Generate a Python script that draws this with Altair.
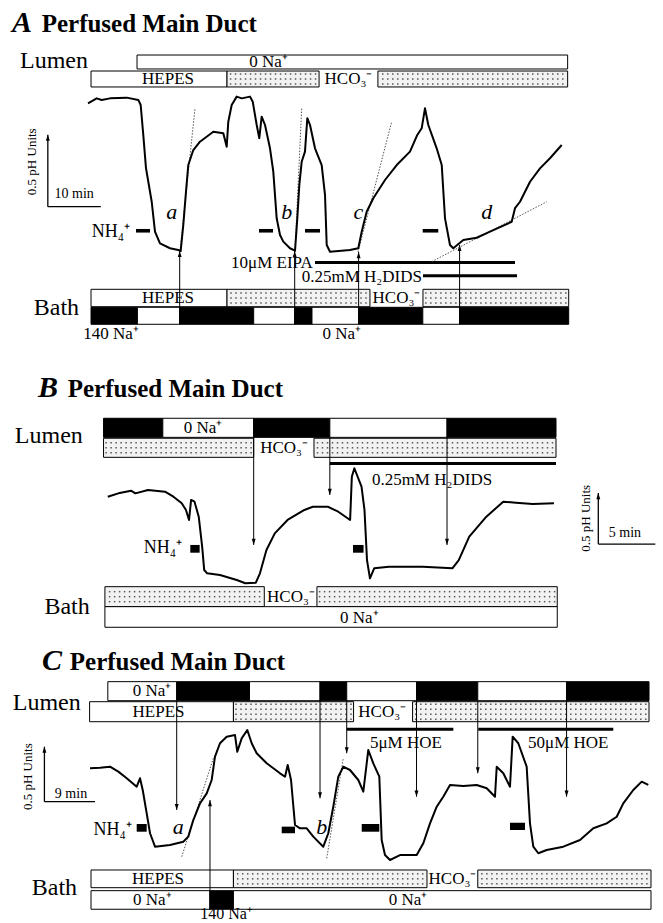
import altair as alt
import pandas as pd

FONT = "Liberation Serif"
FIG_W = 663
FILLS = {"w": "white", "b": "black", "d": "#f2f2f2"}
DOT_STEP_PX = 5

# =================== PANEL A (time in min, pH relative to trough) ===================
A_T = [0.0, 1.64, 2.58, 4.15, 7.30, 9.49, 9.94, 10.43, 10.94, 11.38, 12.02, 12.64, 13.58,
       15.47, 17.04, 17.49, 17.98, 18.49, 18.92, 19.87, 21.13, 23.64, 25.53, 26.17, 26.47,
       27.11, 28.06, 29.0, 30.57, 31.08, 31.83, 32.32, 32.77, 33.40, 34.34, 34.96, 35.60,
       36.23, 36.85, 38.11, 39.06, 39.49, 39.87, 40.32, 40.94, 41.38, 41.89, 42.83, 44.09,
       44.72, 45.04, 45.66, 49.43, 51.0, 51.64, 52.58, 53.83, 56.04, 58.25, 60.75, 62.13,
       62.96, 63.58, 64.21, 65.79, 66.74, 67.36, 68.30, 68.92, 70.81, 73.34, 75.85, 79.94,
       80.57, 81.51, 83.40, 85.28, 87.17, 89.38]
A_PH = [1.026, 1.060, 1.049, 1.060, 1.065, 1.049, 1.014, 0.806, 0.576, 0.481, 0.342, 0.134,
        0.053, 0.019, 0.007, 0.0, 0.181, 0.412, 0.597, 0.701, 0.759, 0.828, 0.817, 0.724,
        0.898, 1.014, 1.072, 1.060, 1.072, 1.037, 0.875, 0.783, 0.933, 0.875, 0.713, 0.551,
        0.227, 0.111, 0.065, 0.019, 0.002, 0.227, 0.458, 0.620, 0.690, 0.922, 0.875, 0.713,
        0.597, 0.389, 0.042, -0.005, 0.007, 0.019, 0.134, 0.273, 0.366, 0.493, 0.597, 0.690,
        0.806, 0.852, 0.991, 0.875, 0.713, 0.597, 0.227, 0.042, 0.019, 0.076, 0.092, 0.134,
        0.203, 0.297, 0.342, 0.481, 0.574, 0.644, 0.736]
A_LUMEN1 = ([9.25], [90.5], ["w"])
A_LUMEN2 = ([0.57, 26.23, 54.7], [26.23, 43.6, 90.5], ["w", "d", "d"])
A_BATH1 = ([0.57, 26.23, 63.2], [26.23, 53.2, 90.7], ["w", "d", "d"])
A_BATH2_EDGES = [0.57, 9.32, 17.30, 31.26, 39.0, 42.26, 51.06, 63.17, 70.11, 90.70]
A_BATH2_FILLS = ["b", "w", "b", "w", "b", "w", "b", "w", "b"]
A_DRUG_T0 = [42.83, 63.2]
A_DRUG_T1 = [80.57, 80.94]
A_DRUG_V = [-0.080, -0.172]
A_UP_T = [17.30, 39.0, 51.06, 70.11]
A_UP_TIP = [0.0, 0.0, -0.007, 0.042]
A_NH4_T0 = [9.06, 32.26, 40.94, 63.15]
A_NH4_T1 = [11.70, 34.91, 43.77, 66.09]
A_TAN = [(17.36, 0.0, 20.19, 0.991), (39.06, 0.0, 40.32, 0.991),
         (50.94, -0.007, 57.30, 0.898), (64.85, -0.074, 86.55, 0.342)]
A_SCALE = (-7.58, 0.308, 10, 0.5)   # origin t, origin pH, 10 min, 0.5 pH
A_TEXT = [
    ("A", -14.34, 1.523, 30, "title1"),
    ("Perfused Main Duct", -8.74, 1.523, 25, "title2"),
    ("Lumen", -12.83, 1.269, 24, "left"),
    ("0 Na⁺", 34.06, 1.3125, 17, "mid"),
    ("HEPES", 15.1, 1.194, 17, "mid"),
    ("HCO₃⁻", 49.15, 1.194, 17, "mid"),
    ("0.5 pH Units", -10.62, 0.62, 13, "rot"),
    ("10 min", -2.6, 0.365, 14, "base"),
    ("NH₄⁺", 7.92, 0.134, 18, "rightmid"),
    ("a", 15.79, 0.273, 22, "ital"),
    ("b", 37.49, 0.273, 22, "ital"),
    ("c", 51.0, 0.273, 22, "ital"),
    ("d", 75.23, 0.273, 22, "ital"),
    ("10μM EIPA", 42.4, -0.083, 17, "rightmid"),
    ("0.25mM H₂DIDS", 63.0, -0.18, 17, "rightmid"),
    ("Bath", -10.23, -0.444, 24, "left"),
    ("HEPES", 15.1, -0.326, 17, "mid"),
    ("HCO₃⁻", 58.2, -0.326, 17, "mid"),
    ("140 Na⁺", 4.34, -0.576, 17, "mid"),
    ("0 Na⁺", 47.9, -0.576, 17, "mid"),
]

# =================== PANEL B ===================
B_T = [0.33, 1.26, 2.37, 2.75, 3.86, 5.35, 6.09, 6.82, 7.19, 7.46, 7.64, 7.94, 8.31, 8.61,
       8.79, 9.05, 10.17, 11.65, 12.39, 13.32, 13.68, 14.25, 14.98, 16.10, 17.58, 18.32,
       19.62, 20.55, 21.59, 21.74, 21.96, 22.59, 22.85, 23.07, 23.33, 23.70, 25.0, 27.96,
       30.56, 31.12, 32.04, 33.54, 35.02, 36.13, 37.61, 39.47]
B_PH = [0.846, 0.879, 0.905, 0.879, 0.912, 0.895, 0.846, 0.781, 0.716, 0.618, 0.814, 0.797,
        0.650, 0.356, 0.127, 0.095, 0.078, 0.029, -0.003, 0.003, 0.095, 0.324, 0.487, 0.618,
        0.716, 0.748, 0.748, 0.699, 0.618, 1.042, 1.125, 0.944, 0.716, 0.225, 0.046, 0.144,
        0.160, 0.160, 0.144, 0.225, 0.454, 0.650, 0.797, 0.787, 0.775, 0.781]
B_LUMEN1_EDGES = [-0.04, 5.16, 13.13, 19.81, 30.09, 39.65]
B_LUMEN1_FILLS = ["b", "w", "b", "w", "b"]
B_LUMEN2 = ([-0.04, 18.42], [13.13, 39.65], ["d", "d"])
B_BATH1 = ([0.08, 18.68], [14.06, 39.76], ["d", "d"])
B_BATH2 = ([0.08], [39.76], ["w"])
B_DRUG_T0 = [19.81]
B_DRUG_T1 = [39.65]
B_DRUG_V = [1.172]
B_DOWN_T = [13.13, 19.81, 30.09]
B_DOWN_TIP = [0.373, 0.863, 0.373]
B_NH4_T0 = [7.57, 21.84]
B_NH4_T1 = [8.39, 22.77]
B_SCALE = (43.36, 0.382, 5, 0.5)
B_TEXT = [
    ("B", -5.79, 1.826, 30, "title1"),
    ("Perfused Main Duct", -3.18, 1.826, 25, "title2"),
    ("Lumen", -7.82, 1.370, 24, "left"),
    ("0 Na⁺", 8.68, 1.520, 17, "mid"),
    ("HCO₃⁻", 15.8, 1.324, 17, "mid"),
    ("0.25mM H₂DIDS", 23.5, 1.010, 17, "leftmid"),
    ("NH₄⁺", 6.84, 0.343, 18, "rightmid"),
    ("0.5 pH Units", 42.25, 0.634, 13, "rot"),
    ("5 min", 45.7, 0.493, 14, "mid"),
    ("Bath", -5.23, -0.304, 24, "left"),
    ("HCO₃⁻", 16.4, -0.137, 17, "mid"),
    ("0 Na⁺", 22.4, -0.343, 17, "mid"),
]

# =================== PANEL C ===================
C_T = [0.0, 1.78, 3.56, 5.04, 6.53, 8.31, 8.90, 9.38, 10.09, 10.68, 11.57, 14.23, 16.60,
       17.49, 18.38, 19.57, 20.77, 21.65, 22.24, 23.13, 24.32, 25.80, 26.21, 26.99, 27.99,
       28.77, 29.66, 31.44, 33.81, 34.70, 35.18, 35.77, 36.48, 37.37, 38.56, 39.73, 41.51,
       42.40, 43.29, 44.18, 45.07, 46.26, 47.74, 48.63, 49.52, 50.41, 51.48, 51.90, 52.49,
       53.38, 55.16, 58.13, 59.31, 60.50, 61.69, 62.86, 64.06, 66.42, 68.81, 70.59, 72.06,
       72.37, 73.54, 74.73, 75.21, 76.21, 77.70, 78.29, 78.88, 79.77, 81.26, 84.22, 87.19,
       89.56, 91.94, 93.72, 94.89, 96.67, 98.17, 99.34]
C_PH = [0.815, 0.821, 0.830, 0.785, 0.725, 0.648, 0.725, 0.618, 0.406, 0.225, 0.103, 0.118,
        0.148, 0.194, 0.345, 0.497, 0.588, 0.709, 0.921, 1.043, 1.103, 1.118, 0.966, 1.088,
        1.164, 1.043, 0.952, 0.861, 0.770, 0.739, 0.845, 0.709, 0.300, 0.270, 0.270, 0.194,
        0.103, 0.225, 0.466, 0.739, 0.830, 0.800, 0.709, 0.603, 0.982, 0.861, 0.739, 0.164,
        0.027, -0.018, 0.027, 0.027, 0.134, 0.315, 0.466, 0.557, 0.664, 0.655, 0.664, 0.634,
        0.557, 0.830, 0.770, 0.648, 1.103, 1.043, 0.830, 0.315, 0.103, 0.043, 0.073, 0.103,
        0.164, 0.270, 0.315, 0.375, 0.497, 0.618, 0.694, 0.664]
C_LUMEN1_EDGES = [3.17, 15.43, 28.38, 40.93, 45.68, 58.10, 69.0, 84.8, 99.47]
C_LUMEN1_FILLS = ["w", "b", "w", "b", "w", "b", "w", "b"]
C_LUMEN2 = ([-0.07, 25.52, 57.4], [25.52, 46.9, 99.47], ["w", "d", "d"])
C_BATH1 = ([0.18, 25.52, 69.0], [25.52, 59.96, 99.82], ["w", "d", "d"])
C_BATH2_EDGES = [0.18, 21.35, 25.52, 99.82]
C_BATH2_FILLS = ["w", "b", "w"]
C_DRUG_T0 = [45.68, 69.09]
C_DRUG_T1 = [64.65, 93.11]
C_DRUG_V = [1.170, 1.170]
C_DOWN_T = [15.43, 40.93, 45.68, 58.10, 69.0, 84.8]
C_DOWN_TIP = [0.436, 0.543, 0.952, 0.557, 0.770, 0.557]
C_UP_T = [21.35]
C_UP_TIP = [0.527]
C_NH4 = [(8.31, 10.09, 0.239, 0.309), (34.11, 36.48, 0.225, 0.285),
         (48.35, 51.48, 0.239, 0.309), (74.73, 77.4, 0.255, 0.321)]
C_TAN = [(16.32, 0.012, 21.94, 0.906), (42.12, -0.003, 45.07, 0.906)]
C_SCALE = (-8.11, 0.512, 9, 0.5)
C_TEXT = [
    ("C", -8.54, 1.709, 30, "title1"),
    ("Perfused Main Duct", -3.59, 1.709, 25, "title2"),
    ("Lumen", -13.75, 1.345, 24, "left"),
    ("0 Na⁺", 11.03, 1.518, 17, "mid"),
    ("HEPES", 12.2, 1.327, 17, "mid"),
    ("HCO₃⁻", 52.0, 1.327, 17, "mid"),
    ("5μM HOE", 49.82, 1.043, 17, "leftmid"),
    ("50μM HOE", 77.94, 1.043, 17, "leftmid"),
    ("0.5 pH Units", -11.12, 0.739, 13, "rot"),
    ("9 min", -3.38, 0.545, 14, "base"),
    ("NH₄⁺", 7.42, 0.255, 18, "rightmid"),
    ("a", 15.71, 0.285, 22, "ital"),
    ("b", 41.23, 0.285, 22, "ital"),
    ("Bath", -10.37, -0.336, 24, "left"),
    ("HEPES", 12.1, -0.191, 17, "mid"),
    ("HCO₃⁻", 64.5, -0.191, 17, "mid"),
    ("0 Na⁺", 11.07, -0.382, 17, "mid"),
    ("0 Na⁺", 56.6, -0.382, 17, "mid"),
    ("140 Na⁺", 24.2, -0.512, 16, "mid"),
]

# ---------------- layout (panel windows in data units) ----------------
LAYOUT = {
    "A": dict(xdom=[-88 / 5.3, (FIG_W - 88) / 5.3], ydom=[-99 / 144, 251 / 144], h=350,
              rows=dict(l1=(1.264, 1.361), l2=(1.139, 1.25), b1=(-0.387, -0.266), b2=(-0.509, -0.391)),
              nh4=(0.128, 0.153)),
    "B": dict(xdom=[-104 / 11.4, (FIG_W - 104) / 11.4], ydom=[-57 / 102, 233 / 102], h=290,
              rows=dict(l1=(1.428, 1.615), l2=(1.232, 1.419), b1=(-0.232, -0.036), b2=(-0.434, -0.232)),
              nh4=(0.297, 0.373)),
    "C": dict(xdom=[-90 / 5.62, (FIG_W - 90) / 5.62], ydom=[-65 / 110, 218 / 110], h=283,
              rows=dict(l1=(1.430, 1.603), l2=(1.239, 1.421), b1=(-0.270, -0.109), b2=(-0.466, -0.297)),
              nh4=None),
}

KINDS = {
    "mid": dict(align="center", baseline="middle"),
    "base": dict(align="center", baseline="alphabetic"),
    "left": dict(align="left", baseline="alphabetic"),
    "leftmid": dict(align="left", baseline="middle"),
    "rightmid": dict(align="right", baseline="middle"),
    "title1": dict(align="left", baseline="alphabetic", fontWeight="bold", fontStyle="italic"),
    "title2": dict(align="left", baseline="alphabetic", fontWeight="bold"),
    "ital": dict(align="center", baseline="middle", fontStyle="italic"),
    "rot": dict(align="center", baseline="middle", angle=270),
}
DOWN_HEAD = "M0,0L-0.32,-1L0.32,-1Z"
UP_HEAD = "M0,0L-0.32,1L0.32,1Z"


def edge_rows(edges, fills, v):
    return [dict(t0=edges[i], t1=edges[i + 1], v0=v[0], v1=v[1], fill=FILLS[f], kind=f)
            for i, f in enumerate(fills)]


def gap_rows(spec, v):
    s, e, f = spec
    return [dict(t0=s[i], t1=e[i], v0=v[0], v1=v[1], fill=FILLS[f[i]], kind=f[i]) for i in range(len(s))]


def stipple(bars, kx, ky):
    """Texture points for the stippled (HCO3-) boxes."""
    dt, dv = DOT_STEP_PX / kx, DOT_STEP_PX / ky
    pts = []
    for b in bars:
        if b["kind"] != "d":
            continue
        nv = int((b["v1"] - b["v0"]) / dv)
        nt = int((b["t1"] - b["t0"]) / dt)
        mv = ((b["v1"] - b["v0"]) - (nv - 1) * dv) / 2
        mt = ((b["t1"] - b["t0"]) - (nt - 1) * dt) / 2
        for j in range(nv):
            for i in range(nt):
                pts.append(dict(t=b["t0"] + mt + i * dt, v=b["v0"] + mv + j * dv))
    return pts


def build_panel(key, t, ph, bars, drugs, arrows, nh4, tangents, scale, texts):
    L = LAYOUT[key]
    xs = alt.Scale(domain=L["xdom"], nice=False, zero=False)
    ys = alt.Scale(domain=L["ydom"], nice=False, zero=False)
    kx = FIG_W / (L["xdom"][1] - L["xdom"][0])
    ky = L["h"] / (L["ydom"][1] - L["ydom"][0])

    def X(f):
        return alt.X(f, type="quantitative", scale=xs, axis=None)

    def Y(f):
        return alt.Y(f, type="quantitative", scale=ys, axis=None)

    layers = []
    layers.append(alt.Chart(pd.DataFrame(bars)).mark_rect(stroke="black", strokeWidth=1).encode(
        x=X("t0"), x2="t1", y=Y("v0"), y2="v1", fill=alt.Fill("fill:N", scale=None)))
    layers.append(alt.Chart(pd.DataFrame(stipple(bars, kx, ky))).mark_square(
        size=2.2, color="#3a3a3a", opacity=0.85).encode(x=X("t"), y=Y("v")))
    if drugs:
        layers.append(alt.Chart(pd.DataFrame(drugs)).mark_rule(color="black", strokeWidth=3).encode(
            x=X("t0"), x2="t1", y=Y("v")))
    if arrows:
        adf = pd.DataFrame(arrows)
        layers.append(alt.Chart(adf).mark_rule(color="black", strokeWidth=1).encode(
            x=X("t"), y=Y("v0"), y2="v1"))
        layers.append(alt.Chart(adf).mark_point(filled=True, color="black", size=150, opacity=1,
                                                strokeWidth=0).encode(
            x=X("t"), y=Y("v1"), shape=alt.Shape("head:N", scale=None)))
    if tangents:
        tdf = pd.DataFrame(tangents, columns=["t0", "v0", "t1", "v1"])
        layers.append(alt.Chart(tdf).mark_rule(color="#555", strokeWidth=1, strokeDash=[1.5, 1.5]).encode(
            x=X("t0"), y=Y("v0"), x2="t1", y2="v1"))
    layers.append(alt.Chart(pd.DataFrame(nh4)).mark_rect(color="black").encode(
        x=X("t0"), x2="t1", y=Y("v0"), y2="v1"))
    tr = pd.DataFrame({"t": t, "ph": ph, "i": range(len(t))})
    layers.append(alt.Chart(tr).mark_line(color="black", strokeWidth=2, strokeJoin="round").encode(
        x=X("t"), y=Y("ph"), order="i:Q"))
    st, sv, dmin, dph = scale
    sb = pd.DataFrame([dict(t0=st, t1=st + dmin, v0=sv, v1=sv),
                       dict(t0=st, t1=st, v0=sv, v1=sv + dph)])
    layers.append(alt.Chart(sb).mark_rule(color="black", strokeWidth=1.3).encode(
        x=X("t0"), x2="t1", y=Y("v0"), y2="v1"))
    layers.append(alt.Chart(pd.DataFrame([dict(t=st, v=sv + dph, head=UP_HEAD)])).mark_point(
        filled=True, color="black", size=150, opacity=1, strokeWidth=0).encode(
        x=X("t"), y=Y("v"), shape=alt.Shape("head:N", scale=None)))
    tdf = pd.DataFrame(texts, columns=["label", "t", "v", "size", "kind"])
    for kind, grp in tdf.groupby("kind", sort=False):
        layers.append(alt.Chart(grp).mark_text(font=FONT, color="black", **KINDS[kind]).encode(
            x=X("t"), y=Y("v"), text="label:N", size=alt.Size("size:Q", scale=None)))
    return alt.layer(*layers).properties(width=FIG_W, height=L["h"])


RA = LAYOUT["A"]["rows"]
a_bars = (gap_rows(A_LUMEN1, RA["l1"]) + gap_rows(A_LUMEN2, RA["l2"]) +
          gap_rows(A_BATH1, RA["b1"]) + edge_rows(A_BATH2_EDGES, A_BATH2_FILLS, RA["b2"]))
a_drugs = [dict(t0=A_DRUG_T0[i], t1=A_DRUG_T1[i], v=A_DRUG_V[i]) for i in range(len(A_DRUG_V))]
a_arrows = [dict(t=A_UP_T[i], v0=RA["b2"][0], v1=A_UP_TIP[i], head=UP_HEAD) for i in range(len(A_UP_T))]
a_nh4 = [dict(t0=A_NH4_T0[i], t1=A_NH4_T1[i], v0=LAYOUT["A"]["nh4"][0], v1=LAYOUT["A"]["nh4"][1])
         for i in range(len(A_NH4_T0))]
panel_a = build_panel("A", A_T, A_PH, a_bars, a_drugs, a_arrows, a_nh4, A_TAN, A_SCALE, A_TEXT)

RB = LAYOUT["B"]["rows"]
b_bars = (edge_rows(B_LUMEN1_EDGES, B_LUMEN1_FILLS, RB["l1"]) + gap_rows(B_LUMEN2, RB["l2"]) +
          gap_rows(B_BATH1, RB["b1"]) + gap_rows(B_BATH2, RB["b2"]))
b_drugs = [dict(t0=B_DRUG_T0[i], t1=B_DRUG_T1[i], v=B_DRUG_V[i]) for i in range(len(B_DRUG_V))]
b_arrows = [dict(t=B_DOWN_T[i], v0=RB["l1"][0], v1=B_DOWN_TIP[i], head=DOWN_HEAD) for i in range(len(B_DOWN_T))]
b_nh4 = [dict(t0=B_NH4_T0[i], t1=B_NH4_T1[i], v0=LAYOUT["B"]["nh4"][0], v1=LAYOUT["B"]["nh4"][1])
         for i in range(len(B_NH4_T0))]
panel_b = build_panel("B", B_T, B_PH, b_bars, b_drugs, b_arrows, b_nh4, [], B_SCALE, B_TEXT)

RC = LAYOUT["C"]["rows"]
c_bars = (edge_rows(C_LUMEN1_EDGES, C_LUMEN1_FILLS, RC["l1"]) + gap_rows(C_LUMEN2, RC["l2"]) +
          gap_rows(C_BATH1, RC["b1"]) + edge_rows(C_BATH2_EDGES, C_BATH2_FILLS, RC["b2"]))
c_drugs = [dict(t0=C_DRUG_T0[i], t1=C_DRUG_T1[i], v=C_DRUG_V[i]) for i in range(len(C_DRUG_V))]
c_arrows = ([dict(t=C_DOWN_T[i], v0=RC["l1"][0], v1=C_DOWN_TIP[i], head=DOWN_HEAD) for i in range(len(C_DOWN_T))] +
            [dict(t=C_UP_T[i], v0=RC["b2"][0], v1=C_UP_TIP[i], head=UP_HEAD) for i in range(len(C_UP_T))])
c_nh4 = [dict(t0=a, t1=b, v0=c, v1=d) for (a, b, c, d) in C_NH4]
panel_c = build_panel("C", C_T, C_PH, c_bars, c_drugs, c_arrows, c_nh4, C_TAN, C_SCALE, C_TEXT)

chart = alt.vconcat(panel_a, panel_b, panel_c, spacing=0, bounds="flush").resolve_scale(
    x="independent", y="independent").properties(
    padding=0, background="white"
).configure_view(stroke=None)

chart.save("out.html", embed_options={"renderer": "svg", "actions": False})
